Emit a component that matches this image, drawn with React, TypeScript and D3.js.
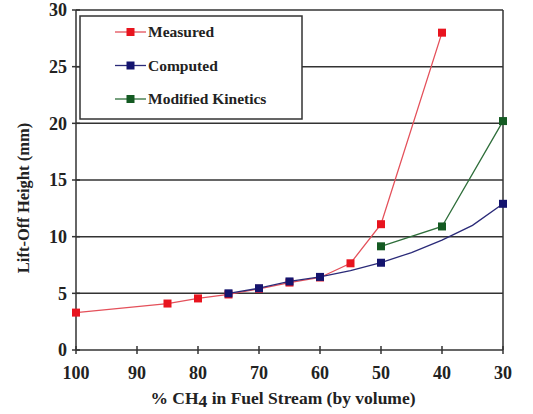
import React from "react";
import * as d3 from "d3";

const xTicks = [100, 90, 80, 70, 60, 50, 40, 30];
const yTicks = [0, 5, 10, 15, 20, 25, 30];

const measuredX = [100, 85, 80, 75, 70, 65, 60, 55, 50, 40];
const measuredY = [3.3, 4.1, 4.55, 4.9, 5.4, 5.95, 6.4, 7.65, 11.1, 28.0];

const computedX = [75, 70, 65, 60, 55, 50, 45, 40, 35, 30];
const computedY = [5.0, 5.45, 6.05, 6.45, 7.0, 7.7, 8.6, 9.7, 11.0, 12.9];
const computedMarker = [true, true, true, true, false, true, false, false, false, true];

const kineticsX = [50, 40, 30];
const kineticsY = [9.15, 10.9, 20.2];

const seriesNames = ["Measured", "Computed", "Modified Kinetics"];

const W = 533;
const H = 414;
const FONT = "Liberation Serif, Times New Roman, serif";

export default function App() {
  const x = d3.scaleLinear().domain([100, 30]).range([76, 503]);
  const y = d3.scaleLinear().domain([0, 30]).range([350, 10]);
  const line = d3
    .line<[number, number]>()
    .x((d) => x(d[0]))
    .y((d) => y(d[1]));

  const measured = measuredX.map((v, i) => [v, measuredY[i]] as [number, number]);
  const computed = computedX.map((v, i) => [v, computedY[i]] as [number, number]);
  const kinetics = kineticsX.map((v, i) => [v, kineticsY[i]] as [number, number]);

  const colors = {
    red: { line: "#e4505a", mark: "#e8141e" },
    blue: { line: "#2a2a78", mark: "#14146e" },
    green: { line: "#2e6e3a", mark: "#145a22" },
  };
  const ms = 8;
  const sq = (p: [number, number], c: string, k: string) => (
    <rect key={k} x={x(p[0]) - ms / 2} y={y(p[1]) - ms / 2} width={ms} height={ms} fill={c} />
  );

  const legendItems = [colors.red, colors.blue, colors.green];
  const txt = { fontFamily: FONT, fontWeight: 700 as const };

  return (
    <svg
      width={W}
      height={H}
      style={{ position: "absolute", left: 0, top: 0, display: "block", background: "#fff" }}
    >
      <rect x={0} y={0} width={W} height={H} fill="#fff" />
      {yTicks
        .filter((t) => t > 0)
        .map((t) => (
          <line key={"g" + t} x1={76} x2={503} y1={y(t)} y2={y(t)} stroke="#333" strokeWidth={1.5} />
        ))}
      <line x1={503} x2={503} y1={y(30)} y2={y(0)} stroke="#333" strokeWidth={1.5} />
      <line x1={76} x2={76} y1={y(30)} y2={y(0)} stroke="#333" strokeWidth={1.5} />
      <line x1={76} x2={503} y1={y(0)} y2={y(0)} stroke="#333" strokeWidth={1.5} />
      {yTicks.map((t) => (
        <g key={"yt" + t}>
          <line x1={72} x2={80} y1={y(t)} y2={y(t)} stroke="#333" strokeWidth={1.5} />
          <text x={67} y={y(t)} dy="0.35em" textAnchor="end" style={txt} fontSize={18} fill="#222">
            {t}
          </text>
        </g>
      ))}
      {xTicks.map((t) => (
        <g key={"xt" + t}>
          <line x1={x(t)} x2={x(t)} y1={y(0) - 4} y2={y(0) + 4} stroke="#333" strokeWidth={1.5} />
          <text x={x(t)} y={379} textAnchor="middle" style={txt} fontSize={18} fill="#222">
            {t}
          </text>
        </g>
      ))}
      <text x={283} y={404} textAnchor="middle" style={txt} fontSize={17.5} fill="#222">
        % CH
        <tspan dy={3}>4</tspan>
        <tspan dy={-3}> in Fuel Stream (by volume)</tspan>
      </text>
      <text
        transform={`translate(29, 198) rotate(-90)`}
        textAnchor="middle"
        style={txt}
        fontSize={16.5}
        fill="#222"
      >
        Lift-Off Height (mm)
      </text>

      <path d={line(measured) || ""} fill="none" stroke={colors.red.line} strokeWidth={1.3} />
      {measured.map((p, i) => sq(p, colors.red.mark, "m" + i))}
      <path d={line(kinetics) || ""} fill="none" stroke={colors.green.line} strokeWidth={1.3} />
      {kinetics.map((p, i) => sq(p, colors.green.mark, "k" + i))}
      <path d={line(computed) || ""} fill="none" stroke={colors.blue.line} strokeWidth={1.3} />
      {computed.map((p, i) => (computedMarker[i] ? sq(p, colors.blue.mark, "c" + i) : null))}

      <rect x={80} y={16} width={222} height={103} fill="#fff" stroke="#333" strokeWidth={1.5} />
      {seriesNames.map((n, i) => {
        const ly = 32 + i * 33.5;
        const c = legendItems[i];
        return (
          <g key={"l" + n}>
            <line x1={115} x2={146} y1={ly} y2={ly} stroke={c.line} strokeWidth={1.3} />
            <rect x={130.5 - ms / 2} y={ly - ms / 2} width={ms} height={ms} fill={c.mark} />
            <text x={148} y={ly} dy="0.35em" style={txt} fontSize={15.5} fill="#222">
              {n}
            </text>
          </g>
        );
      })}
    </svg>
  );
}
